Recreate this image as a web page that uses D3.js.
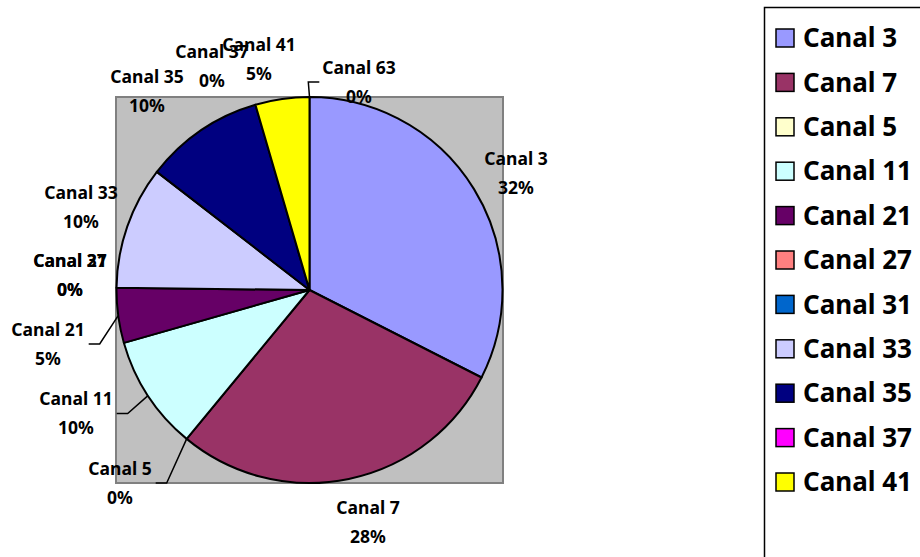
<!DOCTYPE html>
<html lang="en">
<head>
  <meta charset="UTF-8" />
  <title>Canales - pie</title>
  <style>
    body { margin: 0; background: white; overflow: hidden; }
    svg { display: block; }
    text { font-family: "Noto Sans", "DejaVu Sans", sans-serif; font-weight: bold; fill: #000; }
  </style>
</head>
<body>
<svg id="chart"></svg>
<script src="https://d3js.org/d3.v7.min.js"></script>
<script>
// channel names, in slice order (clockwise from 12 o'clock)
const canales = ["Canal 3", "Canal 7", "Canal 5", "Canal 11", "Canal 21", "Canal 27",
                 "Canal 31", "Canal 33", "Canal 35", "Canal 37", "Canal 41", "Canal 63"];
// share of each channel (percent)
const valores = [32.49, 28.49, 0, 9.6, 4.6, 0, 0, 10.3, 10.0, 0, 4.52, 0];
const colores = ["#9999FF", "#993366", "#FFFFCC", "#CCFFFF", "#660066", "#FF8080",
                 "#0066CC", "#CCCCFF", "#000080", "#FF00FF", "#FFFF00", "#00FFFF"];
// legend only had room for the first 11 entries
const legendItems = canales.slice(0, 11);

const width = 920, height = 557;
const cx = 309.5, cy = 290, radius = 193;

const svg = d3.select("#chart")
  .attr("width", width)
  .attr("height", height)
  .attr("viewBox", [0, 0, width, height]);

// plot area
svg.append("rect")
  .attr("x", cx - radius - 0.5)
  .attr("y", cy - radius)
  .attr("width", 2 * radius + 1)
  .attr("height", 2 * radius)
  .attr("fill", "#C0C0C0")
  .attr("stroke", "#808080")
  .attr("stroke-width", 2);

const total = d3.sum(valores);
const data = canales.map((name, i) => ({ name, value: valores[i], color: colores[i] }));

const pie = d3.pie().sort(null).value(d => d.value);
const arcs = pie(data);
const arc = d3.arc().innerRadius(0).outerRadius(radius);

const g = svg.append("g").attr("transform", `translate(${cx},${cy})`);

g.selectAll("path")
  .data(arcs.filter(a => a.data.value > 0))
  .join("path")
  .attr("d", arc)
  .attr("fill", d => d.data.color)
  .attr("stroke", "#000")
  .attr("stroke-width", 2)
  .attr("stroke-linejoin", "round");

// Excel "best fit" label placement (offset of label block from pie centre)
const labelAt = {
  "Canal 3": [206.5, -117], "Canal 7": [58.5, 232], "Canal 5": [-189.5, 193],
  "Canal 11": [-233.5, 123.5], "Canal 21": [-261.5, 54], "Canal 27": [-239.5, -15],
  "Canal 31": [-239.5, -15], "Canal 33": [-228.5, -82.5], "Canal 35": [-162.5, -199],
  "Canal 37": [-97.5, -224], "Canal 41": [-50.5, -231], "Canal 63": [49.5, -208]
};
const withLeader = new Set(["Canal 5", "Canal 11", "Canal 21", "Canal 63"]);

const pct = v => Math.round(v / total * 100) + "%";

const labels = g.selectAll("g.lbl")
  .data(arcs)
  .join("g")
  .attr("class", "lbl")
  .attr("transform", d => `translate(${labelAt[d.data.name][0]},${labelAt[d.data.name][1]})`);

labels.append("text")
  .attr("text-anchor", "middle")
  .attr("y", -14.5)
  .attr("dy", "0.35em")
  .attr("font-size", 17.5)
  .text(d => d.data.name);

labels.append("text")
  .attr("text-anchor", "middle")
  .attr("y", 14.5)
  .attr("dy", "0.35em")
  .attr("font-size", 17.5)
  .text(d => pct(d.data.value));

// leader lines for the labels that were pushed away from their slice
labels.filter(d => withLeader.has(d.data.name)).each(function(d) {
  const [lx, ly] = labelAt[d.data.name];
  const w = this.getBBox().width;
  const mid = (d.startAngle + d.endAngle) / 2;
  const sx = radius * Math.sin(mid), sy = -radius * Math.cos(mid);
  const right = lx > sx; // label lies to the right of its anchor
  const ex = right ? lx - w / 2 - 3 : lx + w / 2 + 4;
  const bx = right ? ex - 11 : ex + 11;
  g.append("path")
    .attr("d", d3.line()([[sx, sy], [bx, ly], [ex, ly]]))
    .attr("fill", "none")
    .attr("stroke", "#000")
    .attr("stroke-width", 1.5);
});

// legend
const legend = svg.append("g");
legend.append("rect")
  .attr("x", 764.5).attr("y", 7.5)
  .attr("width", 220).attr("height", 600)
  .attr("fill", "white")
  .attr("stroke", "#000")
  .attr("stroke-width", 1.5);

const rowY = d3.scalePoint().domain(legendItems).range([38, 482]);

const item = legend.selectAll("g.item")
  .data(legendItems)
  .join("g")
  .attr("class", "item")
  .attr("transform", d => `translate(0,${rowY(d)})`);

item.append("rect")
  .attr("x", 776).attr("y", -9)
  .attr("width", 18).attr("height", 18)
  .attr("fill", d => colores[canales.indexOf(d)])
  .attr("stroke", "#000")
  .attr("stroke-width", 1.5);

item.append("text")
  .attr("x", 803)
  .attr("dy", "0.35em")
  .attr("font-size", 26)
  .text(d => d);
</script>
</body>
</html>
